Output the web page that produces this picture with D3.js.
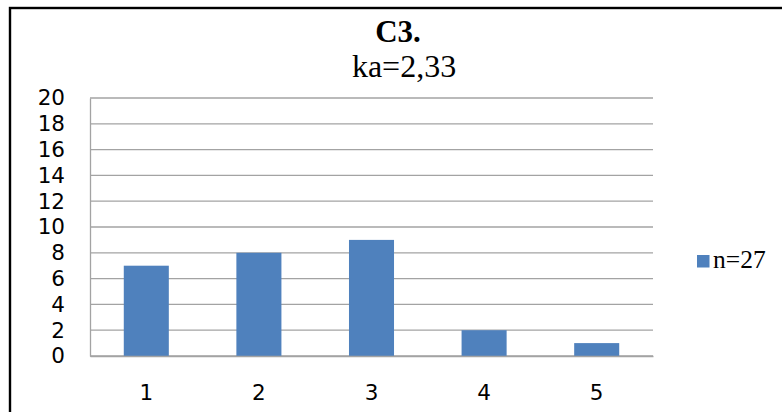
<!DOCTYPE html>
<html>
<head>
<meta charset="utf-8">
<script src="https://cdn.jsdelivr.net/npm/d3@7"></script>
<style>
  html, body { margin: 0; padding: 0; background: #fff; }
  svg { display: block; }
  .serif { font-family: "Liberation Serif", "Times New Roman", Times, "DejaVu Serif", "Noto Serif", serif; }
</style>
</head>
<body>
<svg id="chart" width="782" height="412"></svg>
<script>
// Chart data
const categories = ["1", "2", "3", "4", "5"];
const values = [7, 8, 9, 2, 1];
const yTicks = [0, 2, 4, 6, 8, 10, 12, 14, 16, 18, 20];
const titleText = "C3.";
const subtitleText = "ka=2,33";
const seriesName = "n=27";

const svg = d3.select("#chart");
const W = 782, H = 412;
const plot = { left: 90, right: 653, top: 98, bottom: 356 };
const barColor = "#4f81bd";
const gridColor = "#a3a3a3";
const sansFont = "'DejaVu Sans', sans-serif";

svg.append("rect").attr("width", W).attr("height", H).attr("fill", "#fff");

// Frame around the chart (runs off the right and bottom edges)
svg.append("rect")
  .attr("x", 10).attr("y", 8)
  .attr("width", 820).attr("height", 460)
  .attr("fill", "none")
  .attr("stroke", "#000")
  .attr("stroke-width", 2.4);

const x = d3.scaleBand()
  .domain(categories)
  .range([plot.left, plot.right])
  .paddingInner(0.6)
  .paddingOuter(0.3);

const y = d3.scaleLinear()
  .domain([0, 20])
  .range([plot.bottom, plot.top]);

// Horizontal gridlines
svg.append("g")
  .selectAll("line")
  .data(yTicks)
  .join("line")
  .attr("x1", plot.left).attr("x2", plot.right)
  .attr("y1", d => y(d)).attr("y2", d => y(d))
  .attr("stroke", gridColor)
  .attr("stroke-width", 1.3);

// Y axis
const yAxis = svg.append("g")
  .attr("transform", `translate(${plot.left},0)`)
  .call(d3.axisLeft(y).tickValues(yTicks).tickSize(0).tickPadding(25));
yAxis.select(".domain").attr("stroke", gridColor).attr("stroke-width", 1.3);
yAxis.selectAll("text")
  .attr("font-family", sansFont)
  .attr("font-size", 21.5)
  .attr("fill", "#000");

// Bars
svg.append("g")
  .selectAll("rect")
  .data(values)
  .join("rect")
  .attr("x", (d, i) => x(categories[i]))
  .attr("width", x.bandwidth())
  .attr("y", d => y(d))
  .attr("height", d => y(0) - y(d))
  .attr("fill", barColor);

// X axis
const xAxis = svg.append("g")
  .attr("transform", `translate(0,${plot.bottom})`)
  .call(d3.axisBottom(x).tickSize(0).tickPadding(28.5));
xAxis.select(".domain").attr("stroke", gridColor).attr("stroke-width", 1.3);
xAxis.selectAll("text")
  .attr("font-family", sansFont)
  .attr("font-size", 21.5)
  .attr("fill", "#000");

// Titles
svg.append("text")
  .attr("class", "serif")
  .attr("x", 398).attr("y", 41.5)
  .attr("text-anchor", "middle")
  .attr("font-weight", "bold")
  .attr("font-size", 31)
  .attr("fill", "#000")
  .text(titleText);

svg.append("text")
  .attr("class", "serif")
  .attr("x", 404).attr("y", 76.5)
  .attr("text-anchor", "middle")
  .attr("font-size", 32)
  .attr("fill", "#000")
  .text(subtitleText);

// Legend
const legend = svg.append("g").attr("transform", "translate(697,255)");
legend.append("rect")
  .attr("width", 12.5).attr("height", 12.5)
  .attr("fill", barColor);
legend.append("text")
  .attr("class", "serif")
  .attr("x", 16).attr("y", 13.3)
  .attr("font-size", 25.5)
  .attr("fill", "#000")
  .text(seriesName);
</script>
</body>
</html>
